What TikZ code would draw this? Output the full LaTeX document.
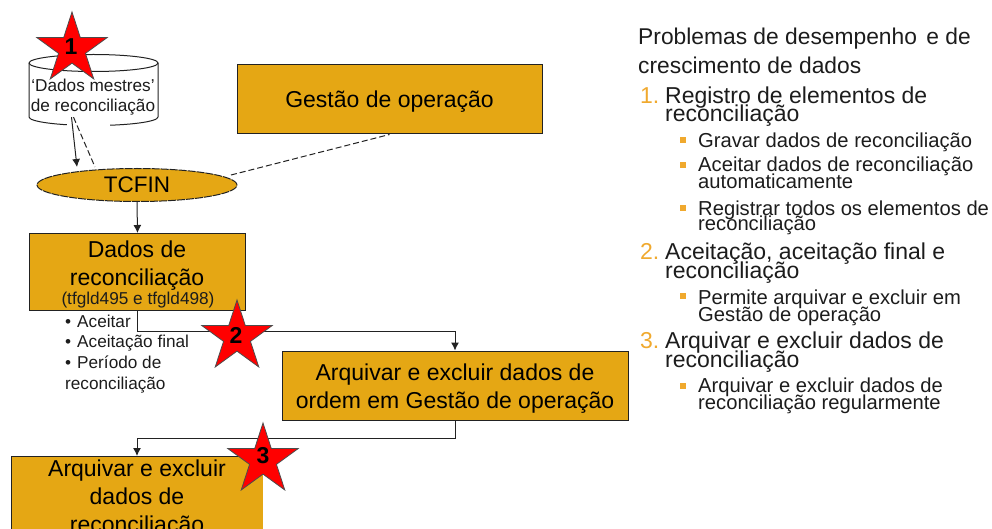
\documentclass[tikz,border=0pt]{standalone}
\usepackage{fontspec}
\setmainfont{Liberation Sans}
\usetikzlibrary{shapes.geometric,arrows.meta}
\definecolor{boxfill}{HTML}{E5A714}
\definecolor{numcol}{HTML}{F0A92E}
\definecolor{linecol}{HTML}{222222}
\definecolor{softtext}{HTML}{1C1C1C}
\tikzset{
  orangebox/.style={draw=linecol,line width=1pt,fill=boxfill,rectangle,inner sep=0pt},
  boxtext/.style={inner sep=0pt,align=center,font=\fontsize{23}{28}\selectfont,text=black},
  redstar/.style={star,star points=5,star point ratio=2.618,draw=black!70,line width=.8pt,fill=red,minimum size=74pt,inner sep=0pt},
  starnum/.style={inner sep=0pt,font=\bfseries\fontsize{23}{23}\selectfont,text=black},
  flow/.style={draw=linecol,line width=1pt,-{Latex[length=8pt,width=8pt]}},
  dashlink/.style={draw=linecol,line width=1pt,dash pattern=on 6pt off 3pt},
  head/.style={anchor=base west,inner sep=0pt,font=\fontsize{22.8}{22.8}\selectfont,text=softtext},
  lvlone/.style={anchor=base west,inner sep=0pt,font=\fontsize{23}{23}\selectfont,text=softtext},
  lvltwo/.style={anchor=base west,inner sep=0pt,font=\fontsize{20.2}{20.2}\selectfont,text=softtext},
  numlabel/.style={anchor=base west,inner sep=0pt,font=\fontsize{23}{23}\selectfont,text=numcol},
  squarebul/.style={fill=numcol,rectangle,inner sep=0pt,minimum size=6pt},
  sidelist/.style={anchor=base west,inner sep=0pt,font=\fontsize{17.2}{17.2}\selectfont,text=softtext},
}
\begin{document}
\begin{tikzpicture}[x=1pt,y=-1pt]
\useasboundingbox (0,0) rectangle (992,529);
% database
\node[minimum width=129pt,minimum height=54pt,inner sep=0pt] (cyl) at (93.5,90) {};
\path[draw=linecol,line width=1pt,fill=white] (29,63) -- (29,117) arc[start angle=180,end angle=360,x radius=64.5,y radius=-8.5] -- (158,63) arc[start angle=0,end angle=180,x radius=64.5,y radius=-8.5] -- cycle;
\path[draw=linecol,line width=1pt] (29,63) arc[start angle=180,end angle=360,x radius=64.5,y radius=-8.5];
\fill[white] (67,120) rectangle (110,128);
\node[inner sep=0pt,align=center,font=\fontsize{17.2}{20}\selectfont,text=softtext] (cyltext) at (93,97) {`Dados mestres'\\de reconciliação};
% boxes
\node[orangebox,minimum width=305pt,minimum height=69pt] (gestao) at (389.5,99.5) {};
\node[boxtext] (gestaotxt) at (389.5,102) {Gestão de operação};
\node[ellipse,draw=linecol,line width=1pt,dash pattern=on 8pt off 1pt,fill=boxfill,minimum width=200pt,minimum height=33pt,inner sep=0pt,font=\fontsize{22.5}{22.5}\selectfont] (tcfin) at (137,185) {TCFIN};
\node[orangebox,minimum width=216pt,minimum height=77pt,anchor=north west] (dados) at (29,233) {};
\node[boxtext] (dadostxt) at (137,266) {Dados de\\reconciliação};
\node[inner sep=0pt,font=\fontsize{17.2}{17.2}\selectfont,text=softtext] (dadosref) at (138,300) {(tfgld495 e tfgld498)};
\node[orangebox,minimum width=346pt,minimum height=69pt] (arq) at (455,385.5) {};
\node[boxtext] (arqtxt) at (455,389) {Arquivar e excluir dados de\\ordem em Gestão de operação};
\path[fill=boxfill] (11,456) rectangle (263,529);
\draw[linecol,line width=1pt] (11,529) -- (11,456) -- (263,456);
\coordinate (bottomtop) at (137,456);
\node[boxtext] (bottomtxt) at (137,499) {Arquivar e excluir\\dados de\\reconciliação};
% connectors
\draw[flow] ([xshift=-22pt]cyl.south) -- ([xshift=-60pt,yshift=1pt]tcfin.north);
\draw[dashlink] ([xshift=-20pt]cyl.south) -- ([xshift=-42pt,yshift=1pt]tcfin.north);
\draw[dashlink] ([xshift=94pt,yshift=10pt]tcfin.center) -- (gestao.south);
\draw[flow] (tcfin.south) -- (dados.north);
\draw[flow] (dados.south) -- ++(0,20) -| (arq.north);
\draw[flow] (arq.south) -- ++(0,18) -| (bottomtop);
% list under box
\node[sidelist] (b1) at (65,327) {•\hspace{6pt}Aceitar};
\node[sidelist] (b2) at (65,347) {•\hspace{6pt}Aceitação final};
\node[sidelist] (b3) at (65,368) {•\hspace{6pt}Período de};
\node[sidelist] (b4) at (65,389) {reconciliação};
% stars
\node[redstar] (s1) at (72,49) {};
\node[starnum] (n1) at (71,47) {1};
\node[redstar] (s2) at (237,337) {};
\node[starnum] (n2) at (236,335) {2};
\node[redstar] (s3) at (263,460) {};
\node[starnum] (n3) at (263,456) {3};
% right text
\node[head] (t1) at (638,45) {Problemas de desempenho\hspace{3pt} e de};
\node[head] (t2) at (638,74) {crescimento de dados};
\node[numlabel] (m1) at (640,104) {1.};
\node[lvlone] (l1a) at (665,104) {Registro de elementos de};
\node[lvlone] (l1b) at (665,122) {reconciliação};
\node[squarebul] (q1) at (683,140) {};
\node[lvltwo] (p1) at (698,148) {Gravar dados de reconciliação};
\node[squarebul] (q2) at (683,165) {};
\node[lvltwo] (p2a) at (698,172) {Aceitar dados de reconciliação};
\node[lvltwo] (p2b) at (698,189) {automaticamente};
\node[squarebul] (q3) at (683,208) {};
\node[lvltwo] (p3a) at (698,215) {Registrar todos os elementos de};
\node[lvltwo] (p3b) at (698,231) {reconciliação};
\node[numlabel] (m2) at (640,259) {2.};
\node[lvlone] (l2a) at (665,259) {Aceitação, aceitação final e};
\node[lvlone] (l2b) at (665,278) {reconciliação};
\node[squarebul] (q4) at (683,296) {};
\node[lvltwo] (p4a) at (698,304) {Permite arquivar e excluir em};
\node[lvltwo] (p4b) at (698,321) {Gestão de operação};
\node[numlabel] (m3) at (640,348) {3.};
\node[lvlone] (l3a) at (665,348) {Arquivar e excluir dados de};
\node[lvlone] (l3b) at (665,367) {reconciliação};
\node[squarebul] (q5) at (683,386) {};
\node[lvltwo] (p5a) at (698,392) {Arquivar e excluir dados de};
\node[lvltwo] (p5b) at (698,409) {reconciliação regularmente};
\end{tikzpicture}
\end{document}
